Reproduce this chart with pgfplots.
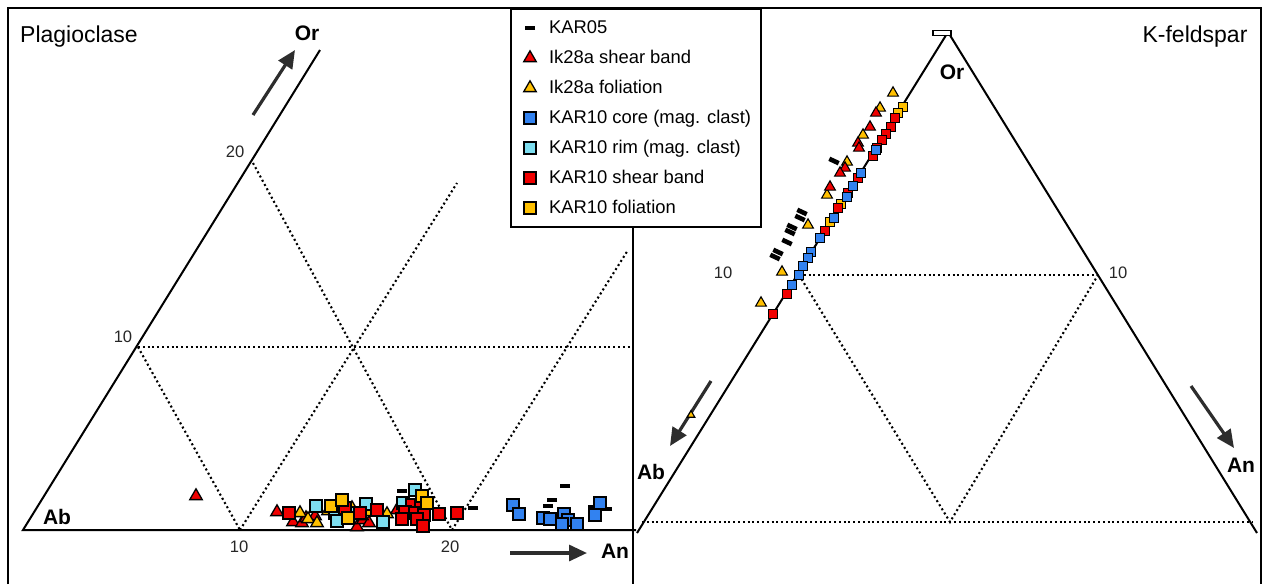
\documentclass[border=0pt]{standalone}
\usepackage{pgfplots}
\pgfplotsset{compat=1.18}
\usepackage{fontspec}
\setmainfont{Liberation Sans}
\usetikzlibrary{arrows.meta}
\definecolor{cred}{RGB}{240,0,0}
\definecolor{cyel}{RGB}{255,192,0}
\definecolor{cblue}{RGB}{50,130,240}
\definecolor{ccyan}{RGB}{125,222,240}
\definecolor{arr}{RGB}{45,45,45}
\begin{document}
\begin{tikzpicture}
\begin{axis}[
 width=631.5pt, height=292pt, scale only axis,
 xmin=0,xmax=1263,ymin=0,ymax=584, y dir=reverse,
 hide axis, clip=false,
 legend style={at={(axis cs:510,8)}, anchor=north west, draw=black, line width=1pt,
   font=\fontsize{9.2}{11}\selectfont, inner sep=5pt, row sep=6pt, column sep=0pt,
   nodes={inner sep=0pt, text height=7pt, text depth=2pt}},
 legend cell align=left,
 legend image code/.code={\path[draw=none,fill=none] (0pt,-3pt) rectangle (14pt,3pt); \draw plot coordinates {(4.5pt,0pt)};},
 lsq/.style={only marks, mark=square*, mark size=3.0pt, mark options={draw=black, line width=0.65pt, fill=#1}},
 ltr/.style={only marks, mark=triangle*, mark size=3.6pt, mark options={draw=black, line width=0.65pt, fill=#1}},
 rsq/.style={only marks, mark=square*, mark size=2.4pt, mark options={draw=black, line width=0.55pt, fill=#1}},
 rtr/.style={only marks, mark=triangle*, mark size=3.1pt, mark options={draw=black, line width=0.55pt, fill=#1}},
 dash/.style={only marks, mark=-, mark size=2.6pt, mark options={draw=black, line width=2.4pt}},
 dot/.style={black, line width=1.05pt, dash pattern=on 1pt off 1.4pt},
 solid/.style={black, line width=1pt},
]
% bounding path
\addplot[draw=none, forget plot] coordinates {(0,0) (1263,584)};
% frame
\addplot[black, line width=1.3pt, forget plot] coordinates {(8,584) (8,8) (1261,8) (1261,584)};
\addplot[black, line width=1.2pt, forget plot] coordinates {(633,225) (633,584)};
% ---------- left panel grid ----------
\addplot[solid, forget plot] coordinates {(320,50) (23,530) (636,530)};
\addplot[dot, forget plot] coordinates {(138,347) (636,347)};
\addplot[dot, forget plot] coordinates {(138,347) (240,530)};
\addplot[dot, forget plot] coordinates {(253,163) (452,530)};
\addplot[dot, forget plot] coordinates {(240,530) (457,183)};
\addplot[dot, forget plot] coordinates {(452,530) (628,250)};
% ---------- right panel grid ----------
\addplot[solid, forget plot] coordinates {(637,533) (948,32) (1257,533)};
\addplot[dot, forget plot] coordinates {(799,275) (1098,275)};
\addplot[dot, forget plot] coordinates {(799,275) (950,522) (1098,275)};
\addplot[dot, forget plot] coordinates {(642,522) (1253,522)};

% ---------- left panel data (legend) ----------
\addplot[dash] coordinates {(402,491) (473,508) (565,486) (552,500) (548,506) (593,507) (607,509)};
\addlegendentry{KAR05}
\addplot[ltr=cred] coordinates {(196,496) (277,512) (293,522) (302,523) (306,518) (315,516) (357,527) (363,520) (369,523) (397,510)};
\addlegendentry{Ik28a shear band}
\addplot[ltr=cyel] coordinates {(300,513) (308,519) (317,523) (328,511) (340,518) (349,520) (352,508) (362,516) (370,512) (387,514)};
\addlegendentry{Ik28a foliation}
\addplot[lsq=cblue] coordinates {(513,505) (519,514) (543,518) (550,519) (564,514) (568,520) (562,524) (577,524) (600,503) (595,515)};
\addlegendentry{KAR10 core (mag. clast)}
\addplot[lsq=ccyan] coordinates {(316,506) (335,513) (337,521) (353,513) (366,504) (383,522) (403,503) (415,490)};
\addlegendentry{KAR10 rim (mag. clast)}
\addplot[lsq=cred] coordinates {(289,513) (345,508) (360,513) (377,510) (412,505) (421,507) (405,512) (415,513) (424,515) (402,519) (417,519) (423,526) (439,514) (457,513)};
\addlegendentry{KAR10 shear band}
\addplot[lsq=cyel] coordinates {(331,506) (342,500) (348,518) (422,496) (427,503)};
\addlegendentry{KAR10 foliation}

% ---------- right panel data ----------
\addplot[only marks, mark=-, mark size=2.6pt, mark options={draw=black, line width=2.3pt, rotate=-25}, forget plot] coordinates {(834,161) (802,212) (800,218) (792,227) (790,232) (787,242) (778,252) (775,257)};
\addplot[only marks, mark=square*, mark size=1.4pt, mark options={draw=black, fill=white, line width=0.6pt, xscale=3.2}, forget plot] coordinates {(942,33)};
\addplot[rtr=cyel, forget plot] coordinates {(893,93) (880,108) (863,135) (847,162) (827,195) (808,225) (782,272) (761,303)};
\addplot[rtr=cyel, forget plot, mark size=2.2pt] coordinates {(691,415)};
\addplot[rtr=cred, forget plot] coordinates {(876,113) (870,127) (858,143) (859,148) (845,168) (840,173) (830,187)};
\addplot[rsq=cyel, forget plot] coordinates {(903,107) (898,113) (841,204) (830,222)};
\addplot[rsq=cred, forget plot] coordinates {(895,118) (891,127) (886,134) (882,140) (877,148) (873,156) (858,178) (848,193) (838,208) (825,231) (787,294) (773,314)};
\addplot[rsq=cblue, forget plot] coordinates {(876,150) (861,173) (853,186) (847,197) (834,218) (820,238) (811,252) (808,258) (803,266) (799,275) (792,285)};

% ---------- labels ----------
\node[font=\fontsize{11.5}{13}\selectfont] at (axis cs:79,37) {Plagioclase};
\node[font=\fontsize{11.5}{13}\selectfont] at (axis cs:1195,37) {K-feldspar};
\node[font=\bfseries\fontsize{10.5}{12}\selectfont] at (axis cs:307,33) {Or};
\node[font=\bfseries\fontsize{10.5}{12}\selectfont] at (axis cs:57,517) {Ab};
\node[font=\bfseries\fontsize{10.5}{12}\selectfont] at (axis cs:615,551) {An};
\node[font=\bfseries\fontsize{10.5}{12}\selectfont] at (axis cs:952,72) {Or};
\node[font=\bfseries\fontsize{10.5}{12}\selectfont] at (axis cs:651,472) {Ab};
\node[font=\bfseries\fontsize{10.5}{12}\selectfont] at (axis cs:1241,465) {An};
\node[font=\fontsize{8.3}{10}\selectfont, text=black!85] at (axis cs:235,152) {20};
\node[font=\fontsize{8.3}{10}\selectfont, text=black!85] at (axis cs:123,337) {10};
\node[font=\fontsize{8.3}{10}\selectfont, text=black!85] at (axis cs:239,547) {10};
\node[font=\fontsize{8.3}{10}\selectfont, text=black!85] at (axis cs:450,547) {20};
\node[font=\fontsize{8.3}{10}\selectfont, text=black!85] at (axis cs:723,273) {10};
\node[font=\fontsize{8.3}{10}\selectfont, text=black!85] at (axis cs:1118,273) {10};
% arrows
\draw[arr, line width=1.6pt, -{Triangle[length=9pt,width=8pt]}] (axis cs:253,115) -- (axis cs:295,50);
\draw[arr, line width=1.6pt, -{Triangle[length=9pt,width=8pt]}] (axis cs:510,553) -- (axis cs:587,553);
\draw[arr, line width=1.6pt, -{Triangle[length=9pt,width=8pt]}] (axis cs:711,381) -- (axis cs:670,446);
\draw[arr, line width=1.6pt, -{Triangle[length=9pt,width=8pt]}] (axis cs:1191,386) -- (axis cs:1234,448);
\end{axis}
\end{tikzpicture}
\end{document}
